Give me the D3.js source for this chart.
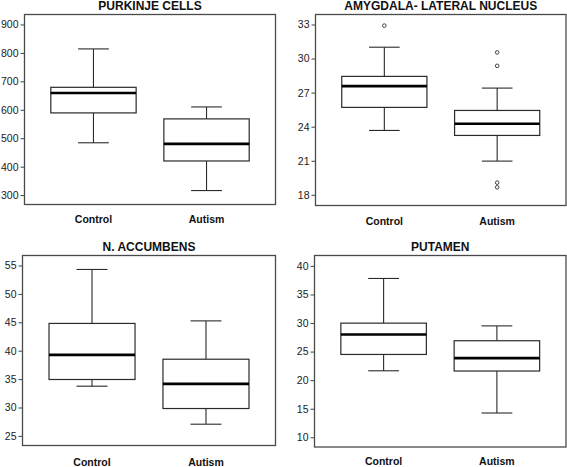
<!DOCTYPE html>
<html>
<head>
<meta charset="utf-8">
<script src="https://cdn.jsdelivr.net/npm/d3@7"></script>
<style>
  html, body { margin: 0; padding: 0; background: #fff; }
  svg { display: block; }
  text { font-family: "Liberation Sans", Arial, sans-serif; }
</style>
</head>
<body>
<svg id="chart" width="567" height="467"></svg>
<script>
// ---------------- data ----------------
const categories = ["Control", "Autism"];
const titles = ["PURKINJE CELLS", "AMYGDALA- LATERAL NUCLEUS", "N. ACCUMBENS", "PUTAMEN"];

// five-number summaries: [lower whisker, Q1, median, Q3, upper whisker], per category
const purkinjeStats  = [[484, 589, 659, 679, 814], [316, 420, 480, 568, 610]];
const amygdalaStats  = [[23.67, 25.7, 27.57, 28.43, 31.0], [20.97, 23.23, 24.26, 25.43, 27.4]];
const accumbensStats = [[33.75, 34.93, 39.26, 44.8, 54.3], [27.06, 29.82, 34.16, 38.5, 45.25]];
const putamenStats   = [[21.64, 24.5, 28.0, 29.98, 37.8], [14.25, 21.6, 23.86, 26.9, 29.5]];

// outliers per category
const purkinjeOutliers  = [[], []];
const amygdalaOutliers  = [[32.9], [30.54, 29.36, 19.07, 18.66]];
const accumbensOutliers = [[], []];
const putamenOutliers   = [[], []];

// axis ticks
const purkinjeTicks  = [300, 400, 500, 600, 700, 800, 900];
const amygdalaTicks  = [18, 21, 24, 27, 30, 33];
const accumbensTicks = [25, 30, 35, 40, 45, 50, 55];
const putamenTicks   = [10, 15, 20, 25, 30, 35, 40];

// y-axis ranges
const purkinjeDomain  = [267, 935];
const amygdalaDomain  = [17.06, 33.88];
const accumbensDomain = [23.31, 56.76];
const putamenDomain   = [8.3, 41.82];

// ---------------- layout ----------------
const panels = [
  { title: titles[0], stats: purkinjeStats,  outliers: purkinjeOutliers,  ticks: purkinjeTicks,  domain: purkinjeDomain,
    x0: 24.5, x1: 275.5, y0: 14.5, y1: 204.5, labelDy: 18 },
  { title: titles[1], stats: amygdalaStats,  outliers: amygdalaOutliers,  ticks: amygdalaTicks,  domain: amygdalaDomain,
    x0: 315.5, x1: 566, y0: 14.5, y1: 205.5, labelDy: 19.5 },
  { title: titles[2], stats: accumbensStats, outliers: accumbensOutliers, ticks: accumbensTicks, domain: accumbensDomain,
    x0: 22.5, x1: 275.5, y0: 255.5, y1: 445.5, labelDy: 20 },
  { title: titles[3], stats: putamenStats,   outliers: putamenOutliers,   ticks: putamenTicks,   domain: putamenDomain,
    x0: 314.5, x1: 566, y0: 255.5, y1: 447, labelDy: 18 }
];

const svg = d3.select("#chart");
const boxColor = "#2a2a2a";

panels.forEach(p => {
  const g = svg.append("g");
  const W = p.x1 - p.x0;
  const x = d3.scalePoint().domain(categories).range([p.x0, p.x1]).padding(0.61);
  const y = d3.scaleLinear().domain(p.domain).range([p.y1, p.y0]);
  const boxW = W * 0.34;
  const capW = boxW * 0.36;

  // y axis
  const axis = d3.axisLeft(y).tickValues(p.ticks).tickSize(4).tickPadding(2).tickFormat(d3.format("d"));
  const ag = g.append("g").attr("transform", `translate(${p.x0},0)`).call(axis);
  ag.select(".domain").remove();
  ag.selectAll(".tick line").attr("stroke", "#444").attr("stroke-width", 1);
  ag.selectAll(".tick text").attr("fill", "#1a1a1a").style("font-size", "10.5px")
    .style("font-family", "'Liberation Sans', Arial, sans-serif");

  // frame
  g.append("rect")
    .attr("x", p.x0).attr("y", p.y0)
    .attr("width", W).attr("height", p.y1 - p.y0)
    .attr("fill", "none").attr("stroke", "#4a4a4a").attr("stroke-width", 1.3);

  // title
  g.append("text")
    .attr("x", (p.x0 + p.x1) / 2).attr("y", p.y0 - 5)
    .attr("text-anchor", "middle")
    .style("font-size", "12px").style("font-weight", "bold")
    .attr("fill", "#111")
    .text(p.title);

  // category labels
  g.selectAll("text.cat").data(categories).enter().append("text")
    .attr("class", "cat")
    .attr("x", d => x(d)).attr("y", p.y1 + p.labelDy)
    .attr("text-anchor", "middle")
    .style("font-size", "10.5px").style("font-weight", "bold")
    .attr("fill", "#111")
    .text(d => d);

  // boxes
  categories.forEach((c, i) => {
    const s = p.stats[i];
    const cx = x(c);
    const bg = g.append("g");
    // whiskers
    bg.append("line").attr("x1", cx).attr("x2", cx).attr("y1", y(s[3])).attr("y2", y(s[4]))
      .attr("stroke", boxColor).attr("stroke-width", 1.1);
    bg.append("line").attr("x1", cx).attr("x2", cx).attr("y1", y(s[1])).attr("y2", y(s[0]))
      .attr("stroke", boxColor).attr("stroke-width", 1.1);
    // caps
    [s[0], s[4]].forEach(v => {
      bg.append("line").attr("x1", cx - capW / 2).attr("x2", cx + capW / 2)
        .attr("y1", y(v)).attr("y2", y(v))
        .attr("stroke", boxColor).attr("stroke-width", 1.1);
    });
    // box
    bg.append("rect")
      .attr("x", cx - boxW / 2).attr("y", y(s[3]))
      .attr("width", boxW).attr("height", y(s[1]) - y(s[3]))
      .attr("fill", "#fff").attr("stroke", boxColor).attr("stroke-width", 1.2);
    // median
    bg.append("line").attr("x1", cx - boxW / 2).attr("x2", cx + boxW / 2)
      .attr("y1", y(s[2])).attr("y2", y(s[2]))
      .attr("stroke", "#000").attr("stroke-width", 2.6);
    // outliers
    bg.selectAll("circle").data(p.outliers[i]).enter().append("circle")
      .attr("cx", cx).attr("cy", d => y(d)).attr("r", 1.8)
      .attr("fill", "none").attr("stroke", boxColor).attr("stroke-width", 0.9);
  });
});
</script>
</body>
</html>
